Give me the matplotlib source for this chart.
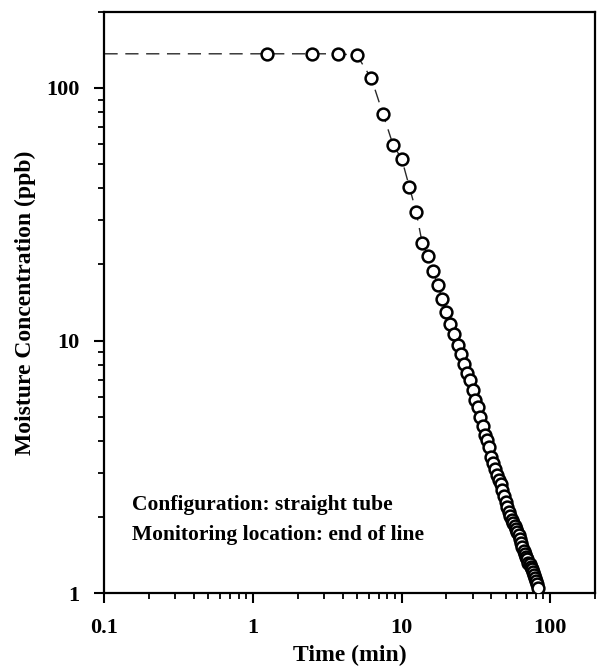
import numpy as np
import matplotlib
matplotlib.use("Agg")
import matplotlib.pyplot as plt
from matplotlib.ticker import LogLocator, FuncFormatter, NullFormatter

plt.rcParams['font.family'] = ['Liberation Serif', 'DejaVu Serif']
plt.rcParams['font.weight'] = 'bold'

# moisture readings, sampled every 1.25 min
time_min = [1.25, 2.5, 3.75, 5.0, 6.25, 7.5, 8.75, 10.0, 11.25, 12.5,
            13.75, 15.0, 16.25, 17.5, 18.75, 20.0, 21.25, 22.5, 23.75, 25.0,
            26.25, 27.5, 28.75, 30.0, 31.25, 32.5, 33.75, 35.0, 36.25, 37.5,
            38.75, 40.0, 41.25, 42.5, 43.75, 45.0, 46.25, 47.5, 48.75, 50.0,
            51.25, 52.5, 53.75, 55.0, 56.25, 57.5, 58.75, 60.0, 61.25, 62.5,
            63.75, 65.0, 66.25, 67.5, 68.75, 70.0, 71.25, 72.5, 73.75, 75.0,
            76.25, 77.5, 78.75, 80.0, 81.25, 82.5]
conc_ppb = [136.6, 136.6, 136.6, 134.7, 109.2, 78.7, 59.5, 52.4, 40.7, 32.4,
            24.3, 21.7, 18.8, 16.6, 14.6, 13.0, 11.6, 10.6, 9.64, 8.81,
            8.09, 7.43, 6.95, 6.39, 5.79, 5.45, 4.97, 4.57, 4.21, 4.03,
            3.79, 3.46, 3.26, 3.09, 2.93, 2.80, 2.69, 2.55, 2.42, 2.30,
            2.20, 2.10, 2.02, 1.95, 1.89, 1.84, 1.79, 1.75, 1.69, 1.64,
            1.58, 1.52, 1.47, 1.43, 1.39, 1.36, 1.32, 1.30, 1.27, 1.24,
            1.21, 1.18, 1.15, 1.12, 1.09, 1.05]

# dashed model line starts at the initial (plateau) level
line_start_t = 0.1
plateau_ppb = 136.6

x_ticks = [0.1, 1, 10, 100]
y_ticks = [1, 10, 100]

fig = plt.figure(figsize=(5.97, 6.66), dpi=100)
ax = fig.add_axes([0.175, 0.1096, 0.8217, 0.8724])

line_t = np.concatenate([[line_start_t], time_min])
line_c = np.concatenate([[plateau_ppb], conc_ppb])
ax.plot(line_t, line_c, color='#2a2a2a', lw=1.0, dashes=(9.5, 5.5), zorder=2)
ax.plot(time_min, conc_ppb, ls='none', marker='o', ms=8.5, mfc='white',
        mec='black', mew=1.8, zorder=3)

ax.set_xscale('log')
ax.set_yscale('log')
ax.set_xlim(0.1, 200)
ax.set_ylim(1, 200)

fmt = FuncFormatter(lambda v, p: '{:g}'.format(v))
ax.set_xticks(x_ticks)
ax.set_yticks(y_ticks)
ax.xaxis.set_major_formatter(fmt)
ax.yaxis.set_major_formatter(fmt)
ax.xaxis.set_minor_locator(LogLocator(base=10, subs=np.arange(2, 10)))
ax.yaxis.set_minor_locator(LogLocator(base=10, subs=np.arange(2, 10)))
ax.xaxis.set_minor_formatter(NullFormatter())
ax.yaxis.set_minor_formatter(NullFormatter())

ax.tick_params(which='major', direction='out', length=7, width=1.5,
               labelsize=16, pad=11)
ax.tick_params(which='minor', direction='out', length=4, width=1.3)
ax.tick_params(top=False, right=False, which='both')
for s in ax.spines.values():
    s.set_linewidth(1.6)

ax.set_xlabel('Time (min)', fontsize=17, fontweight='bold', labelpad=5)
ax.set_ylabel('Moisture Concentration (ppb)', fontsize=17,
              fontweight='bold', labelpad=7)

ax.text(0.0555, 0.1515, 'Configuration: straight tube', transform=ax.transAxes,
        fontsize=15.5, fontweight='bold', va='center', ha='left')
ax.text(0.0555, 0.0998, 'Monitoring location: end of line', transform=ax.transAxes,
        fontsize=15.5, fontweight='bold', va='center', ha='left')

fig.savefig('out.png', dpi=100)
